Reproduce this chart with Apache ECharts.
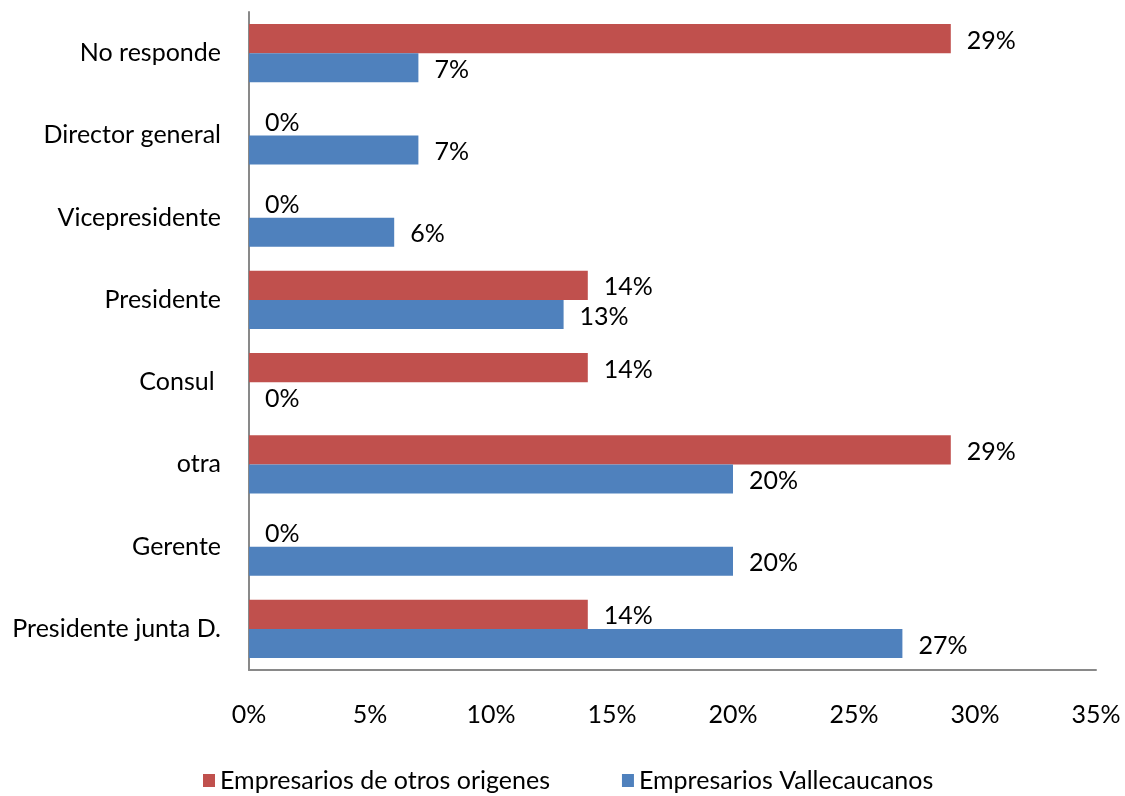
<!DOCTYPE html>
<html>
<head>
<meta charset="utf-8">
<script src="https://cdn.jsdelivr.net/npm/echarts@6/dist/echarts.min.js"></script>
<style>
html,body{margin:0;padding:0;background:#fff;}
#chart{width:1125px;height:796px;}
</style>
</head>
<body>
<div id="chart"></div>
<script>
const categories = ['Presidente junta D.', 'Gerente', 'otra', 'Consul ', 'Presidente', 'Vicepresidente', 'Director general', 'No responde'];
const seriesNames = ['Empresarios de otros origenes', 'Empresarios Vallecaucanos'];
const otrosOrigenes = [14, 0, 29, 14, 14, 0, 0, 29];
const vallecaucanos = [27, 20, 20, 0, 13, 6, 7, 7];
const xTicks = [0, 5, 10, 15, 20, 25, 30, 35];

const FONT = 'Lato';
const FS = 25;
const chart = echarts.init(document.getElementById('chart'));
const labelCfg = {
  show: true, position: 'right', distance: 16, offset: [0, 2],
  formatter: p => p.value + '%',
  color: '#000', fontSize: FS, fontFamily: FONT
};
chart.setOption({
  animation: false,
  textStyle: { fontFamily: FONT },
  grid: { left: 249, right: 29, top: 12, bottom: 126, containLabel: false },
  legend: {
    data: seriesNames,
    bottom: -2, left: 198,
    itemWidth: 12, itemHeight: 13, itemGap: 72,
    icon: 'rect',
    textStyle: { fontSize: FS, color: '#000', fontFamily: FONT }
  },
  xAxis: {
    type: 'value', min: xTicks[0], max: xTicks[xTicks.length - 1], interval: 5,
    axisLine: { show: true, lineStyle: { color: '#898989', width: 2 } },
    axisTick: { show: false },
    splitLine: { show: false },
    axisLabel: { formatter: '{value}%', fontSize: FS, color: '#000', margin: 32, fontFamily: FONT }
  },
  yAxis: {
    type: 'category', data: categories,
    axisLine: { show: true, lineStyle: { color: '#898989', width: 2 } },
    axisTick: { show: false },
    axisLabel: { fontSize: FS, color: '#000', margin: 28, fontFamily: FONT }
  },
  series: [
    { name: seriesNames[0], type: 'bar', data: otrosOrigenes, itemStyle: { color: '#C0504D' },
      barGap: '0%', barCategoryGap: '29%', label: labelCfg },
    { name: seriesNames[1], type: 'bar', data: vallecaucanos, itemStyle: { color: '#4F81BD' },
      barGap: '0%', barCategoryGap: '29%', label: labelCfg }
  ]
});
</script>
</body>
</html>
